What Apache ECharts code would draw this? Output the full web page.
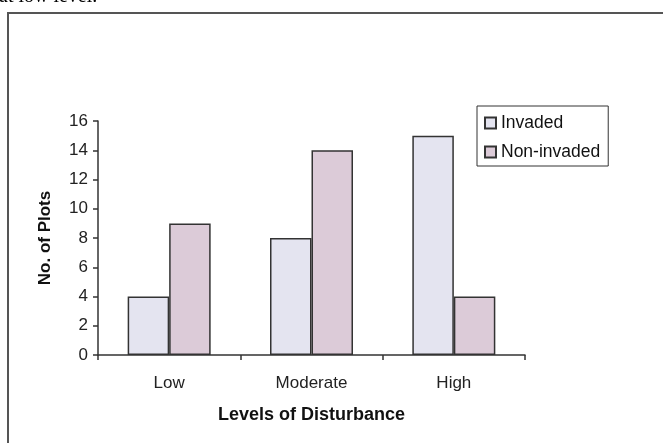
<!DOCTYPE html>
<html>
<head>
<meta charset="utf-8">
<script src="https://cdn.jsdelivr.net/npm/echarts@6/dist/echarts.min.js"></script>
<style>
html,body{margin:0;padding:0;background:#fff;}
#c{width:663px;height:443px;}
</style>
</head>
<body>
<div id="c"></div>
<script>
const categories = ["Low", "Moderate", "High"];
const seriesNames = ["Invaded", "Non-invaded"];
const invaded = [4, 8, 15];
const nonInvaded = [9, 14, 4];
const yTicks = { min: 0, max: 16, interval: 2 };

const chart = echarts.init(document.getElementById('c'));
const font = 'Liberation Sans, Arial, sans-serif';
chart.setOption({
  animation: false,
  backgroundColor: '#fff',
  graphic: [
    { type: 'rect', shape: { x: 8, y: 13, width: 800, height: 600 },
      style: { fill: 'none', stroke: '#555', lineWidth: 2 }, z: 0 },
    { type: 'text', x: -1, y: 7,
      style: { text: 'at low level.', font: '20px "Liberation Serif", "Times New Roman", serif',
               fill: '#000', verticalAlign: 'bottom', align: 'left' } }
  ],
  grid: { left: 98, right: 138, top: 121, bottom: 88, containLabel: false },
  legend: {
    orient: 'vertical', left: 477, top: 106,
    data: seriesNames,
    icon: 'rect', itemWidth: 11, itemHeight: 11, itemGap: 11,
    padding: [8, 8, 5, 7],
    borderColor: '#333', borderWidth: 1,
    textStyle: { fontFamily: font, fontSize: 17.5, color: '#111' }
  },
  xAxis: {
    type: 'category', data: categories,
    name: 'Levels of Disturbance', nameLocation: 'middle', nameGap: 51,
    nameTextStyle: { fontFamily: font, fontSize: 18, fontWeight: 'bold', color: '#111' },
    axisLine: { lineStyle: { color: '#333', width: 1.5 } },
    axisTick: { show: true, length: 5, lineStyle: { color: '#333', width: 1.5 } },
    axisLabel: { fontFamily: font, fontSize: 17, color: '#222', margin: 20 }
  },
  yAxis: {
    type: 'value', min: yTicks.min, max: yTicks.max, interval: yTicks.interval,
    name: 'No. of Plots', nameLocation: 'middle', nameGap: 44, nameRotate: 90,
    nameTextStyle: { fontFamily: font, fontSize: 17, fontWeight: 'bold', color: '#111' },
    axisLine: { show: true, lineStyle: { color: '#333', width: 1.5 } },
    axisTick: { show: true, length: 5, lineStyle: { color: '#333', width: 1.5 } },
    axisLabel: { fontFamily: font, fontSize: 17, color: '#222', margin: 10 },
    splitLine: { show: false }
  },
  series: [
    { name: seriesNames[0], type: 'bar', data: invaded, barWidth: 41.5, barGap: '0%',
      itemStyle: { color: '#e4e4f0', borderColor: '#333', borderWidth: 1.5 } },
    { name: seriesNames[1], type: 'bar', data: nonInvaded, barWidth: 41.5, barGap: '0%',
      itemStyle: { color: '#dccbd8', borderColor: '#333', borderWidth: 1.5 } }
  ]
});
</script>
</body>
</html>
